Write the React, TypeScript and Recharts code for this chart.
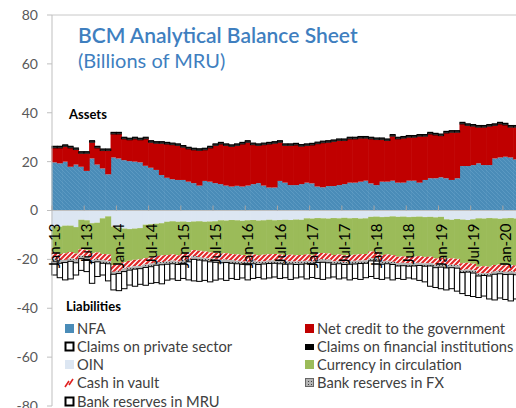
import { Bar, BarChart, ReferenceLine, XAxis, YAxis } from "recharts";

const MONTHS = ["Jan", "Feb", "Mar", "Apr", "May", "Jun", "Jul", "Aug", "Sep", "Oct", "Nov", "Dec"];
const YEARS = ["13", "14", "15", "16", "17", "18", "19", "20"];
const periods = YEARS.flatMap((y) => MONTHS.map((m) => `${m}-${y}`)).slice(0, 87);

// assets (billions of MRU)
const nfa = [
  19.7, 19.3, 20.0, 17.9, 18.8, 17.9, 16.2, 21.3, 18.8, 17.2, 14.8, 21.7,
  21.3, 20.6, 20.2, 20.0, 19.7, 18.3, 17.5, 16.6, 14.5, 13.4, 12.8, 12.5,
  12.5, 11.8, 11.2, 10.2, 12.1, 11.8, 11.2, 10.8, 10.2, 9.8, 10.1, 9.8,
  10.2, 10.8, 11.2, 10.2, 9.4, 9.4, 12.1, 11.4, 10.4, 10.4, 10.8, 11.4,
  11.1, 9.8, 9.5, 10.0, 10.0, 10.4, 10.8, 11.4, 11.4, 11.8, 12.2, 11.1,
  10.4, 11.8, 11.8, 12.2, 11.4, 11.4, 12.2, 12.2, 11.4, 12.5, 13.2, 13.2,
  13.6, 13.2, 12.5, 13.2, 18.2, 18.2, 18.6, 19.3, 18.6, 18.6, 21.3, 21.7,
  22.0, 21.7, 20.9,
];
const netCredit = [
  5.9, 6.3, 6.2, 7.7, 6.1, 5.5, 7.2, 6.6, 6.8, 7.3, 9.7, 9.6,
  10.0, 8.7, 8.7, 9.3, 9.2, 11.0, 10.4, 10.9, 13.0, 13.8, 14.1, 14.1,
  13.4, 13.4, 13.6, 14.4, 12.7, 13.8, 15.4, 16.4, 16.4, 16.4, 16.5, 17.4,
  17.7, 16.1, 15.4, 16.7, 17.8, 18.1, 15.8, 15.2, 16.2, 16.4, 15.5, 15.2,
  15.7, 17.5, 18.2, 17.9, 18.2, 18.2, 17.8, 17.9, 17.9, 17.8, 17.4, 18.2,
  18.6, 17.2, 16.8, 18.2, 17.9, 18.2, 17.8, 17.8, 19.0, 17.9, 18.1, 17.7,
  17.0, 18.5, 19.5, 18.8, 17.2, 16.6, 15.9, 14.8, 15.5, 15.9, 13.5, 13.7,
  13.0, 12.4, 13.2,
];
const privateClaims = [
  0.4, 0.4, 0.4, 0.4, 0.4, 0.4, 0.4, 0.4, 0.4, 0.4, 0.4, 0.4,
  0.4, 0.4, 0.4, 0.4, 0.4, 0.4, 0.4, 0.4, 0.4, 0.4, 0.4, 0.4,
  0.4, 0.4, 0.4, 0.4, 0.4, 0.4, 0.4, 0.4, 0.4, 0.4, 0.4, 0.4,
  0.4, 0.4, 0.4, 0.4, 0.4, 0.4, 0.4, 0.4, 0.4, 0.4, 0.4, 0.4,
  0.4, 0.4, 0.4, 0.4, 0.4, 0.4, 0.4, 0.4, 0.4, 0.4, 0.4, 0.4,
  0.4, 0.4, 0.4, 0.4, 0.4, 0.4, 0.4, 0.4, 0.4, 0.4, 0.4, 0.4,
  0.4, 0.4, 0.4, 0.4, 0.4, 0.4, 0.4, 0.4, 0.4, 0.4, 0.4, 0.4,
  0.4, 0.4, 0.4,
];
const finClaims = [
  0.5, 0.5, 0.5, 0.5, 0.5, 0.5, 0.5, 0.5, 0.5, 0.5, 0.5, 0.5,
  0.5, 0.5, 0.5, 0.5, 0.5, 0.5, 0.5, 0.5, 0.5, 0.5, 0.5, 0.5,
  0.5, 0.5, 0.5, 0.5, 0.5, 0.5, 0.5, 0.5, 0.5, 0.5, 0.5, 0.5,
  0.5, 0.5, 0.5, 0.5, 0.5, 0.5, 0.5, 0.5, 0.5, 0.5, 0.5, 0.5,
  0.5, 0.5, 0.5, 0.5, 0.5, 0.5, 0.5, 0.5, 0.5, 0.5, 0.5, 0.5,
  0.5, 0.5, 0.5, 0.5, 0.5, 0.5, 0.5, 0.5, 0.5, 0.5, 0.5, 0.5,
  0.5, 0.5, 0.5, 0.5, 0.5, 0.5, 0.5, 0.5, 0.5, 0.5, 0.5, 0.5,
  0.5, 0.5, 0.5,
];

// liabilities
const oin = [
  -6.4, -6.6, -6.2, -6.2, -6.8, -3.8, -4.0, -5.2, -5.0, -3.2, -2.4, -6.6,
  -7.0, -7.4, -7.6, -7.4, -7.2, -5.8, -5.6, -5.4, -5.2, -4.6, -4.4, -4.6,
  -4.5, -4.7, -4.5, -4.4, -4.6, -4.5, -4.4, -4.0, -4.1, -3.9, -4.0, -4.2,
  -4.0, -3.9, -4.1, -4.0, -3.8, -4.0, -3.9, -3.8, -3.9, -3.7, -3.8, -3.2,
  -3.3, -3.1, -3.2, -3.3, -3.1, -3.2, -3.0, -3.2, -3.1, -3.3, -3.2, -2.6,
  -2.5, -2.7, -2.6, -2.4, -2.6, -2.5, -2.7, -2.6, -2.5, -2.7, -2.6, -2.8,
  -2.6, -3.6, -3.8, -3.5, -3.7, -3.9, -3.6, -3.2, -3.3, -3.1, -3.2, -3.4,
  -3.2, -3.1, -3.3,
];
const currency = [
  -10.8, -11.2, -11.3, -10.8, -10.8, -12.1, -12.2, -12.3, -12.2, -14.6, -15.6, -15.7,
  -15.0, -13.8, -13.0, -12.8, -12.8, -13.7, -13.6, -13.2, -13.2, -13.6, -13.6, -13.7,
  -13.3, -12.5, -11.7, -12.1, -12.2, -12.7, -13.0, -13.6, -13.4, -13.9, -14.0, -14.0,
  -14.4, -14.1, -14.2, -14.1, -14.1, -13.8, -14.1, -14.4, -14.2, -14.6, -14.4, -14.8,
  -15.0, -14.4, -14.2, -14.3, -15.1, -14.8, -15.3, -15.0, -15.0, -14.6, -14.6, -14.2,
  -14.4, -15.5, -15.4, -15.9, -16.3, -16.3, -16.3, -16.3, -16.2, -16.3, -16.3, -16.8,
  -16.8, -16.1, -15.8, -16.3, -17.9, -17.5, -18.2, -19.8, -19.5, -19.9, -19.1, -18.7,
  -19.2, -19.2, -19.2,
];
const cashVault = [
  -2.6, -2.5, -2.7, -2.6, -2.4, -2.6, -2.5, -2.8, -2.6, -2.5, -2.7, -2.8,
  -2.7, -2.6, -2.5, -2.6, -2.7, -2.6, -2.5, -2.6, -2.7, -2.6, -2.5, -2.6,
  -2.6, -2.7, -2.5, -2.6, -2.6, -2.5, -2.7, -2.6, -2.6, -2.5, -2.6, -2.7,
  -2.6, -2.5, -2.6, -2.7, -2.6, -2.6, -2.5, -2.6, -2.7, -2.6, -2.5, -2.6,
  -2.6, -2.7, -2.6, -2.5, -2.6, -2.6, -2.7, -2.6, -2.5, -2.6, -2.6, -2.7,
  -2.6, -2.5, -2.6, -2.7, -2.6, -2.6, -2.5, -2.6, -2.7, -2.6, -2.6, -2.5,
  -2.6, -2.7, -2.6, -2.6, -2.8, -2.7, -2.6, -2.7, -2.8, -2.6, -2.7, -2.6,
  -2.7, -2.6, -2.7,
];
const fxReserves = [
  -1.2, -1.3, -1.1, -1.2, -1.4, -1.2, -1.3, -1.0, -1.2, -1.3, -1.1, -1.0,
  -1.1, -1.2, -1.3, -1.2, -1.1, -1.2, -1.3, -1.2, -1.1, -1.2, -1.3, -1.2,
  -1.2, -1.1, -1.3, -1.2, -1.2, -1.3, -1.1, -1.2, -1.2, -1.3, -1.2, -1.1,
  -1.2, -1.3, -1.2, -1.1, -1.2, -1.2, -1.3, -1.2, -1.1, -1.2, -1.3, -1.2,
  -1.2, -1.1, -1.2, -1.3, -1.2, -1.2, -1.1, -1.2, -1.3, -1.2, -1.2, -1.1,
  -1.2, -1.3, -1.2, -1.1, -1.2, -1.2, -1.3, -1.2, -1.1, -1.2, -1.2, -1.3,
  -1.2, -1.1, -1.2, -1.2, -1.0, -1.1, -1.2, -1.1, -1.0, -1.2, -1.1, -1.2,
  -1.1, -1.2, -1.1,
];
const mruReserves = [
  -5.4, -5.9, -7.1, -7.2, -5.0, -4.8, -5.0, -8.5, -6.0, -4.8, -7.0, -6.4,
  -7.0, -7.0, -6.1, -7.0, -6.4, -7.3, -6.8, -7.1, -7.8, -6.5, -6.2, -6.5,
  -6.2, -7.4, -8.8, -8.7, -8.0, -8.2, -7.3, -6.6, -7.3, -6.2, -6.4, -5.6,
  -6.2, -6.0, -5.3, -6.1, -5.9, -5.6, -6.0, -5.5, -6.3, -5.5, -5.2, -6.2,
  -5.3, -6.5, -7.0, -6.2, -5.2, -6.2, -5.5, -6.4, -5.9, -6.5, -5.9, -6.4,
  -7.1, -6.2, -5.8, -6.3, -5.1, -5.6, -4.8, -5.3, -6.1, -6.4, -8.3, -8.1,
  -8.8, -9.0, -8.6, -9.4, -8.6, -9.6, -9.6, -8.8, -8.4, -9.4, -10.5, -9.9,
  -10.2, -10.9, -9.9,
];

const yTicks = [-80, -60, -40, -20, 0, 20, 40, 60, 80];

const rows = periods.map((period, i) => ({
  period,
  nfa: nfa[i],
  netCredit: netCredit[i],
  privateClaims: privateClaims[i],
  finClaims: finClaims[i],
  oin: oin[i],
  currency: currency[i],
  cashVault: cashVault[i],
  fxReserves: fxReserves[i],
  mruReserves: mruReserves[i],
}));

// layout
const MARGIN_TOP = 15;
const PLOT_H = 391;
const Y_AXIS_W = 52;
const PLOT_W = 467;
const X_AXIS_H = 20;
const CHART_W = Y_AXIS_W + PLOT_W;
const CHART_H = 430;
const ZERO_Y = MARGIN_TOP + PLOT_H / 2;
const BAND = PLOT_W / periods.length;
const FONT = "Lato, 'Open Sans', sans-serif";

// full-band column (no seams between months), built on the bar's own geometry
function column(fill: string, stroke?: string, strokeWidth = 0, widen = 0.6) {
  return (p: any) => {
    const y = Math.min(p.y, p.y + p.height);
    const h = Math.abs(p.height);
    const cx = p.x + p.width / 2;
    return (
      <rect
        x={cx - BAND / 2 - widen / 2}
        y={y}
        width={BAND + widen}
        height={h}
        fill={fill}
        stroke={stroke}
        strokeWidth={strokeWidth}
      />
    );
  };
}

function PeriodTick({ x, payload }: any) {
  return (
    <g>
      <line x1={x - BAND / 2} x2={x - BAND / 2} y1={ZERO_Y} y2={ZERO_Y - 5} stroke="#a6a6a6" />
      <text
        transform={`translate(${x + 5.4}, ${ZERO_Y + 13}) rotate(-90)`}
        textAnchor="end"
        fontSize={15}
        fontFamily={FONT}
        fill="#000"
      >
        {payload.value}
      </text>
    </g>
  );
}

function Swatch({ kind }: { kind: string }) {
  let body: React.ReactNode = null;
  if (kind === "box") body = <rect x={1.5} y={1.5} width={8} height={8} fill="#fff" stroke="#000" strokeWidth={2} />;
  else if (kind === "fin") body = <rect x={1} y={3} width={9} height={6} fill="#000" />;
  else if (kind === "vault")
    body = <path d="M1,10 L5,4 M5,8 L9,2" stroke="#e02020" strokeWidth={1.6} fill="none" />;
  else if (kind === "fx") body = <rect x={1.5} y={1.5} width={8} height={8} fill="url(#fxDots)" stroke="#666" strokeWidth={1} />;
  else body = <rect x={1} y={1} width={9} height={9} fill={kind} />;
  return (
    <svg width={11} height={11} style={{ position: "absolute", left: -13, top: 2 }}>
      {body}
    </svg>
  );
}

function LegendItem({ left, top, kind, label }: { left: number; top: number; kind: string; label: string }) {
  return (
    <div style={{ position: "absolute", left, top, fontSize: 14.7, lineHeight: "14px", color: "#404040", whiteSpace: "nowrap" }}>
      <Swatch kind={kind} />
      {label}
    </div>
  );
}

export default function App() {
  return (
    <div style={{ position: "absolute", left: 0, top: 0, width: 516, height: 408, overflow: "hidden", background: "#fff", fontFamily: FONT }}>
      <svg width={0} height={0} style={{ position: "absolute" }}>
        <defs>
          <pattern id="nfaHatch" patternUnits="userSpaceOnUse" width={4} height={4}>
            <rect width={4} height={4} fill="#4a8cb8" />
            <path d="M-1,-1 L5,5 M-1,3 L1,5 M3,-1 L5,1" stroke="#5f9cc4" strokeWidth={0.8} />
          </pattern>
          <pattern id="vaultHatch" patternUnits="userSpaceOnUse" width={5} height={5}>
            <rect width={5} height={5} fill="#fff" />
            <path d="M-1,6 L6,-1 M-1,1 L1,-1 M4,6 L6,4" stroke="#e02828" strokeWidth={2.2} />
          </pattern>
          <pattern id="fxDots" patternUnits="userSpaceOnUse" width={3} height={3}>
            <rect width={3} height={3} fill="#b4b4b4" />
            <rect x={1} y={1} width={1} height={1} fill="#404040" />
          </pattern>
        </defs>
      </svg>

      <BarChart
        width={CHART_W}
        height={CHART_H}
        data={rows}
        stackOffset="sign"
        barCategoryGap={0}
        barGap={0}
        margin={{ top: MARGIN_TOP, right: 0, bottom: CHART_H - MARGIN_TOP - PLOT_H - X_AXIS_H, left: 0 }}
      >
        <YAxis
          domain={[-80, 80]}
          ticks={yTicks}
          width={Y_AXIS_W}
          tickSize={5}
          tickMargin={9}
          tick={{ fill: "#595959", fontSize: 14, fontFamily: FONT }}
          axisLine={{ stroke: "#bfbfbf" }}
          tickLine={{ stroke: "#bfbfbf" }}
        />
        <ReferenceLine y={80} stroke="#c8c8c8" />
        <Bar dataKey="nfa" stackId="a" shape={column("url(#nfaHatch)")} isAnimationActive={false} />
        <Bar dataKey="netCredit" stackId="a" shape={column("#c00000")} isAnimationActive={false} />
        <Bar dataKey="privateClaims" stackId="a" shape={column("#fff", "#000", 0.8, 0)} isAnimationActive={false} />
        <Bar dataKey="finClaims" stackId="a" shape={column("#000")} isAnimationActive={false} />
        <Bar dataKey="oin" stackId="a" shape={column("#dce6f2")} isAnimationActive={false} />
        <Bar dataKey="currency" stackId="a" shape={column("#9bbb59")} isAnimationActive={false} />
        <Bar dataKey="cashVault" stackId="a" shape={column("url(#vaultHatch)")} isAnimationActive={false} />
        <Bar dataKey="fxReserves" stackId="a" shape={column("url(#fxDots)")} isAnimationActive={false} />
        <Bar dataKey="mruReserves" stackId="a" shape={column("#fff", "#000", 1, 0)} isAnimationActive={false} />
        <ReferenceLine y={0} stroke="#bfbfbf" />
        <XAxis
          dataKey="period"
          interval={5}
          height={X_AXIS_H}
          axisLine={false}
          tickLine={false}
          tick={(p: any) => <PeriodTick {...p} />}
        />
      </BarChart>

      <div style={{ position: "absolute", left: 78, top: 24, fontSize: 21, lineHeight: "21px", fontWeight: 600, color: "#3f7fbf", whiteSpace: "nowrap" }}>
        BCM Analytical Balance Sheet
      </div>
      <div style={{ position: "absolute", left: 78, top: 50, fontSize: 20, lineHeight: "20px", color: "#3f7fbf", whiteSpace: "nowrap" }}>
        (Billions of MRU)
      </div>
      <div style={{ position: "absolute", left: 69, top: 108, fontSize: 13, lineHeight: "13px", fontWeight: 700, color: "#000" }}>
        Assets
      </div>
      <div style={{ position: "absolute", left: 66, top: 300, fontSize: 13, lineHeight: "13px", fontWeight: 700, color: "#000" }}>
        Liabilities
      </div>

      <LegendItem left={77} top={321} kind="#4a8cb8" label="NFA" />
      <LegendItem left={77} top={339} kind="box" label="Claims on private sector" />
      <LegendItem left={77} top={357} kind="#dce6f2" label="OIN" />
      <LegendItem left={77} top={375} kind="vault" label="Cash in vault" />
      <LegendItem left={77} top={394} kind="box" label="Bank reserves in MRU" />
      <LegendItem left={317} top={321} kind="#c00000" label="Net credit to the government" />
      <LegendItem left={317} top={339} kind="fin" label="Claims on financial institutions" />
      <LegendItem left={317} top={357} kind="#9bbb59" label="Currency in circulation" />
      <LegendItem left={317} top={375} kind="fx" label="Bank reserves in FX" />
    </div>
  );
}
